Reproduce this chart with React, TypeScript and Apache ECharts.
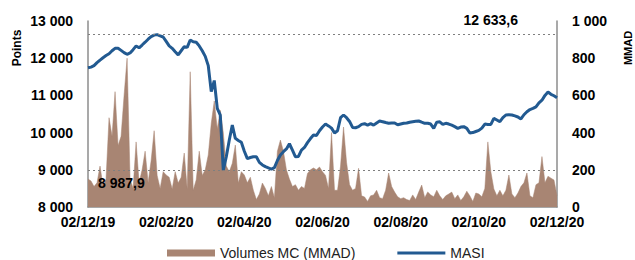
import React, { useEffect, useRef } from "react";
import * as echarts from "echarts";

const dateLabels = ["02/12/19", "02/02/20", "02/04/20", "02/06/20", "02/08/20", "02/10/20", "02/12/20"];
const pointsTicks = [8000, 9000, 10000, 11000, 12000, 13000];
const masiMax = 12633.6;
const masiMin = 8987.9;

const masi = [
  11744, 11760, 11800, 11880, 11950, 12013, 12070, 12120, 12200, 12266,
  12266, 12210, 12150, 12105, 12140, 12230, 12330, 12280, 12354, 12430,
  12510, 12580, 12620, 12633.6, 12600, 12570, 12450, 12330, 12266, 12175,
  12090, 12200, 12310, 12290, 12489, 12440, 12430, 12330, 12200, 12050,
  11800, 11100, 11400, 10650, 10473, 8987.9, 9350, 9800, 10204, 9846,
  9790, 9740, 9500, 9300, 9330, 9352, 9352, 9200, 9130, 9084,
  9050, 9020, 9060, 9250, 9400, 9486, 9560, 9700, 9530, 9350,
  9360, 9530, 9600, 9730, 9840, 9935, 9920, 10050, 10150, 10230,
  10180, 10120, 9990, 10050, 10400, 10473, 10400, 10300, 10140, 10130,
  10160, 10220, 10240, 10204, 10240, 10200, 10260, 10312, 10293, 10270,
  10250, 10260, 10260, 10210, 10230, 10250, 10260, 10280, 10293, 10305,
  10312, 10280, 10250, 10250, 10230, 10115, 10280, 10290, 10220, 10250,
  10230, 10200, 10160, 10115, 10150, 10160, 10115, 9990, 10000, 10030,
  10060, 10120, 10230, 10220, 10220, 10384, 10340, 10293, 10400, 10473,
  10480, 10473, 10450, 10420, 10366, 10480, 10560, 10620, 10650, 10690,
  10800, 10870, 11000, 11090, 11030, 10990, 10938,
];

const volumes = [
  150, 140, 110, 130, 220, 110, 150, 480, 380, 620,
  330, 380, 600, 800, 150, 100, 350, 130, 200, 300,
  130, 250, 410, 170, 100, 190, 172, 160, 97, 190,
  129, 160, 290, 97, 727, 90, 147, 300, 170, 200,
  280, 450, 570, 420, 520, 400, 220, 190, 235, 333,
  129, 190, 172, 130, 160, 90, 40, 70, 129, 100,
  60, 110, 50, 300, 360, 300, 200, 150, 110, 120,
  90, 110, 100, 180, 200, 210, 200, 215, 190, 170,
  100, 400, 90, 90, 220, 430, 240, 120, 90, 100,
  208, 60, 54, 30, 60, 65, 90, 50, 45, 90,
  183, 110, 80, 55, 45, 50, 40, 35, 65, 40,
  80, 118, 50, 81, 65, 55, 90, 60, 40, 60,
  70, 80, 45, 65, 35, 55, 85, 60, 30, 75,
  70, 55, 100, 350, 190, 97, 60, 90, 60, 90,
  172, 70, 50, 75, 110, 130, 183, 60, 50, 120,
  130, 271, 130, 165, 155, 145, 60,
];

const FONT = "'Liberation Sans', Arial, sans-serif";
const fmt = (v: number) => {
  const s = String(Math.round(v));
  return s.replace(/\B(?=(\d{3})+(?!\d))/g, " ");
};
const fmtDec = (v: number) => {
  const [i, d] = v.toFixed(1).split(".");
  return fmt(Number(i)) + "," + d;
};

export default function App() {
  const ref = useRef<HTMLDivElement>(null);
  useEffect(() => {
    if (!ref.current) return;
    const chart = echarts.init(ref.current, null, { renderer: "svg" });
    const n = masi.length - 1;
    const step = n / (dateLabels.length - 1);
    const axisLineStyle = { color: "#8c8c8c", width: 1.5 };
    const labelStyle = { fontFamily: FONT, fontWeight: "bold" as const, fontSize: 14, color: "#000" };
    chart.setOption({
      animation: false,
      textStyle: { fontFamily: FONT },
      grid: { left: 88, right: 78, top: 21, bottom: 53, containLabel: false },
      legend: {
        left: 162,
        top: 241,
        itemWidth: 48,
        itemHeight: 7,
        itemGap: 42,
        textStyle: { fontFamily: FONT, fontSize: 14, color: "#222" },
        data: [
          { name: "Volumes MC (MMAD)", icon: "rect" },
          { name: "MASI", icon: "path://M0,0L48,0L48,3.2L0,3.2Z" },
        ],
      },
      xAxis: {
        type: "value",
        min: 0,
        max: n,
        interval: step,
        axisLine: { lineStyle: axisLineStyle },
        axisTick: { show: false },
        splitLine: { show: false },
        axisLabel: {
          ...labelStyle,
          margin: 8,
          showMinLabel: true,
          showMaxLabel: true,
          formatter: (v: number) => dateLabels[Math.round(v / step)] ?? "",
        },
      },
      yAxis: [
        {
          type: "value",
          min: pointsTicks[0],
          max: pointsTicks[pointsTicks.length - 1],
          interval: 1000,
          axisLine: { show: true, lineStyle: axisLineStyle },
          axisTick: { show: false },
          splitLine: { show: false },
          axisLabel: { ...labelStyle, margin: 15, formatter: (v: number) => fmt(v) },
        },
        {
          type: "value",
          min: 0,
          max: 1000,
          interval: 200,
          position: "right",
          axisLine: { show: true, lineStyle: axisLineStyle },
          axisTick: { show: false },
          splitLine: { show: false },
          axisLabel: { ...labelStyle, margin: 15, formatter: (v: number) => fmt(v) },
        },
      ],
      graphic: [
        {
          type: "text",
          x: 17,
          y: 48,
          rotation: Math.PI / 2,
          style: { text: "Points", font: `bold 12px ${FONT}`, fill: "#000", align: "center", verticalAlign: "middle" },
        },
        {
          type: "text",
          x: 628,
          y: 48,
          rotation: Math.PI / 2,
          style: { text: "MMAD", font: `bold 11px ${FONT}`, fill: "#000", align: "center", verticalAlign: "middle" },
        },
      ],
      series: [
        {
          name: "Volumes MC (MMAD)",
          type: "line",
          yAxisIndex: 1,
          symbol: "none",
          data: volumes.map((v, i) => [i, v]),
          lineStyle: { width: 0.5, color: "#a88573" },
          itemStyle: { color: "#a88573" },
          areaStyle: { color: "#a88573", opacity: 1 },
          z: 1,
        },
        {
          name: "MASI",
          type: "line",
          yAxisIndex: 0,
          symbol: "none",
          data: masi.map((v, i) => [i, v]),
          lineStyle: { width: 3, color: "#225a91" },
          itemStyle: { color: "#225a91" },
          z: 3,
          markLine: {
            silent: true,
            symbol: "none",
            lineStyle: { type: [2, 3], color: "#7f7f7f", width: 1 },
            data: [
              {
                yAxis: masiMax,
                label: {
                  position: "insideEndTop",
                  distance: [39, 8],
                  formatter: () => fmtDec(masiMax),
                  ...labelStyle,
                },
              },
              {
                yAxis: masiMin,
                label: {
                  position: "insideStartBottom",
                  distance: [10, 6],
                  formatter: () => fmtDec(masiMin),
                  ...labelStyle,
                },
              },
            ],
          },
        },
      ],
    });
    return () => chart.dispose();
  }, []);
  return (
    <div
      ref={ref}
      style={{ position: "fixed", left: 0, top: 0, width: 635, height: 260, background: "#fff" }}
    />
  );
}
